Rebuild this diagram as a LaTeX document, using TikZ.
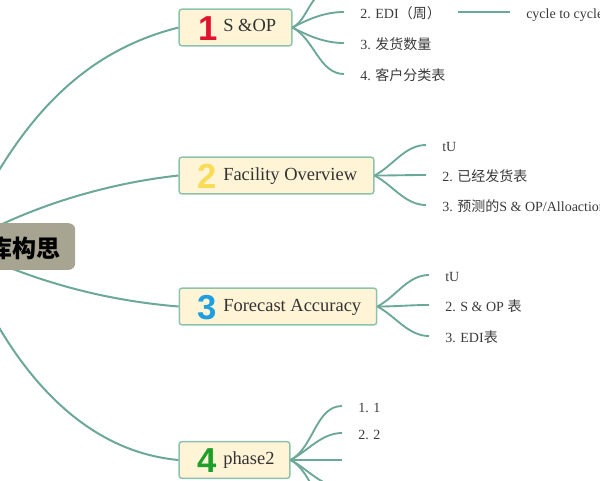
\documentclass[tikz,border=0pt]{standalone}
\usepackage{fontspec}
\setmainfont{Liberation Serif}
\newfontfamily\cjk{Noto Sans CJK SC}
\newfontfamily\iconf{Liberation Sans}
\usetikzlibrary{calc}
\definecolor{linec}{HTML}{6BA898}
\definecolor{boxfill}{HTML}{FFF4D6}
\definecolor{boxline}{HTML}{8DC2AE}
\definecolor{rootfill}{HTML}{A8A492}
\definecolor{txt}{HTML}{3A3A3A}
\definecolor{ione}{HTML}{E2142D}
\definecolor{itwo}{HTML}{F8DC55}
\definecolor{ithree}{HTML}{1F9FE0}
\definecolor{ifour}{HTML}{1E9E2A}
\tikzset{
  x=0.75pt,y=-0.75pt,
  topic/.style={draw=boxline,fill=boxfill,line width=1.1pt,rounded corners=2pt,minimum height=27.5pt,inner sep=0pt},
  rootbox/.style={fill=rootfill,rounded corners=5pt,minimum height=35pt,minimum width=120pt,inner sep=0pt},
  roottext/.style={font=\cjk\bfseries\fontsize{18}{18}\selectfont,text=black,inner sep=0pt},
  ttext/.style={font=\fontsize{13.85}{16}\selectfont,text=black!80,anchor=base west,inner sep=0pt},
  icon/.style={font=\iconf\bfseries\fontsize{26}{26}\selectfont,anchor=base,inner sep=0pt},
  leaf/.style={font=\fontsize{10.5}{12}\selectfont,text=txt,anchor=west,inner ysep=0pt,inner xsep=12pt,text height=10.5pt,text depth=1pt},
  main/.style={draw=linec,line width=1.5pt},
  sub/.style={draw=linec,line width=1.4pt,out=0,in=180},
  subup/.style={draw=linec,line width=1.4pt,out=28,in=180,looseness=0.9},
  subdn/.style={draw=linec,line width=1.4pt,out=-28,in=180,looseness=0.9},
}
\begin{document}
\begin{tikzpicture}
\clip (0,0) rectangle (600,480);
\useasboundingbox (0,0) rectangle (600,480);
% nodes
\coordinate (hub) at (-40,246);
\node[topic,minimum width=84.5pt] (b1) at (235.5,27.5) {};
\node[topic,minimum width=146pt] (b2) at (276.5,175.5) {};
\node[topic,minimum width=148pt] (b3) at (278,306.5) {};
\node[topic,minimum width=83pt] (b4) at (234.5,460) {};
% root connectors
\draw[main] (hub) .. controls (20,110) and (90,50) .. (b1.west);
\draw[main] (hub) .. controls (30,205) and (110,183) .. (b2.west);
\draw[main] (hub) .. controls (30,280) and (100,300) .. (b3.west);
\draw[main] (hub) .. controls (0,350) and (70,450) .. (b4.west);
\node[rootbox,anchor=east] (root) at (75.5,246.5) {};
\node[roottext,anchor=east] (roott) at (60.5,248.5) {库构思};
% topic text
\node[icon,text=ione] (i1) at (208,40) {1};
\node[ttext] (t1) at (223,31) {S \&OP};
\node[icon,text=itwo] (i2) at (207,188) {2};
\node[ttext] (t2) at (223,180) {Facility Overview};
\node[icon,text=ithree] (i3) at (207,319) {3};
\node[ttext] (t3) at (223,311) {Forecast Accuracy};
\node[icon,text=ifour] (i4) at (207,472) {4};
\node[ttext] (t4) at (223,464) {phase2};
% leaves of 1
\coordinate (l10) at (328,-8);
\node[leaf] (l12) at (344,12) {2. EDI{\cjk（周）}};
\node[leaf] (l13) at (344,43) {3. {\cjk 发货数量}};
\node[leaf] (l14) at (344,74) {4. {\cjk 客户分类表}};
\coordinate (c12) at (458,12);
\node[leaf] (l121) at (510,12) {cycle to cycle};
\draw[subup] (b1.east) to (l10);
\draw[subup] (b1.east) to (l12.west);
\draw[subdn] (b1.east) to (l13.west);
\draw[subdn] (b1.east) to (l14.west);
\draw[sub] (c12) -- (l121.west);
% leaves of 2
\node[leaf] (l21) at (426,145) {tU};
\node[leaf] (l22) at (426,175) {2. {\cjk 已经发货表}};
\node[leaf] (l23) at (426,205) {3. {\cjk 预测的}S \& OP/Alloaction};
\draw[subup] (b2.east) to (l21.west);
\draw[sub] (b2.east) to (l22.west);
\draw[subdn] (b2.east) to (l23.west);
% leaves of 3
\node[leaf] (l31) at (429,275) {tU};
\node[leaf] (l32) at (429,305) {2. S \& OP {\cjk 表}};
\node[leaf] (l33) at (429,336) {3. EDI{\cjk 表}};
\draw[subup] (b3.east) to (l31.west);
\draw[sub] (b3.east) to (l32.west);
\draw[subdn] (b3.east) to (l33.west);
% leaves of 4
\node[leaf] (l41) at (342,406) {1. 1};
\node[leaf] (l42) at (342,433) {2. 2};
\coordinate (l43) at (342,460);
\coordinate (l44) at (342,487);
\coordinate (l45) at (342,514);
\draw[subup] (b4.east) to (l41.west);
\draw[subup] (b4.east) to (l42.west);
\draw[sub] (b4.east) to (l43);
\draw[subdn] (b4.east) to (l44);
\draw[subdn] (b4.east) to (l45);
\end{tikzpicture}
\end{document}
